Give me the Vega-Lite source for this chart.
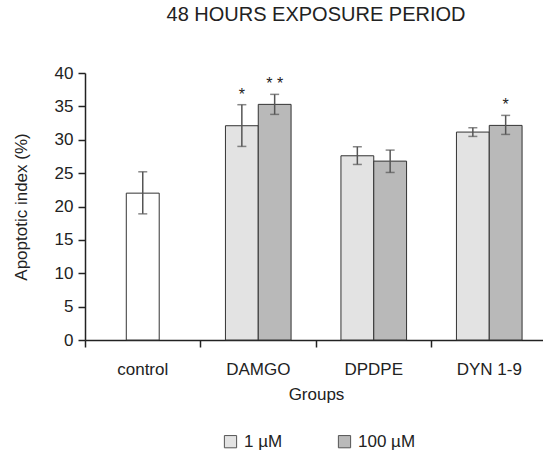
{
  "$schema": "https://vega.github.io/schema/vega-lite/v6.json",
  "width": 462,
  "height": 267,
  "autosize": {"type": "none"},
  "padding": {"left": 85, "top": 73, "right": 0, "bottom": 113},
  "title": {"text": "48 HOURS EXPOSURE PERIOD", "fontSize": 20, "font": "Liberation Sans", "fontWeight": "normal", "color": "#222", "offset": 39},
  "data": {"values": [
    {"group": "control", "dose": "none", "value": 22.0, "lo": 18.9, "hi": 25.2, "sig": ""},
    {"group": "DAMGO", "dose": "1 µM", "value": 32.1, "lo": 29.0, "hi": 35.25, "sig": "*"},
    {"group": "DAMGO", "dose": "100 µM", "value": 35.3, "lo": 33.8, "hi": 36.8, "sig": "* *"},
    {"group": "DPDPE", "dose": "1 µM", "value": 27.6, "lo": 26.3, "hi": 28.95, "sig": ""},
    {"group": "DPDPE", "dose": "100 µM", "value": 26.8, "lo": 25.1, "hi": 28.45, "sig": ""},
    {"group": "DYN 1-9", "dose": "1 µM", "value": 31.15, "lo": 30.5, "hi": 31.8, "sig": ""},
    {"group": "DYN 1-9", "dose": "100 µM", "value": 32.15, "lo": 30.8, "hi": 33.65, "sig": "*"}
  ]},
  "encoding": {
    "x": {
      "field": "group", "type": "nominal",
      "sort": ["control", "DAMGO", "DPDPE", "DYN 1-9"],
      "scale": {"paddingInner": 0, "paddingOuter": 0},
      "axis": {
        "title": "Groups", "bandPosition": 0, "labelAngle": 0,
        "labelPadding": 14, "titlePadding": 9
      }
    }
  },
  "layer": [
    {
      "transform": [{"filter": "datum.dose == 'none'"}],
      "mark": {"type": "bar", "fill": "white", "stroke": "#333", "strokeWidth": 1, "width": {"band": 0.285}},
      "encoding": {
        "y": {
          "field": "value", "type": "quantitative",
          "scale": {"domain": [0, 40], "nice": false},
          "axis": {"title": "Apoptotic index (%)", "values": [0, 5, 10, 15, 20, 25, 30, 35, 40]}
        }
      }
    },
    {
      "transform": [{"filter": "datum.dose == 'none'"}],
      "mark": {"type": "rule", "color": "#555", "strokeWidth": 1.5},
      "encoding": {
        "y": {"field": "lo", "type": "quantitative", "axis": {"title": "Apoptotic index (%)", "values": [0, 5, 10, 15, 20, 25, 30, 35, 40]}},
        "y2": {"field": "hi"}
      }
    },
    {
      "transform": [{"filter": "datum.dose == 'none'"}],
      "mark": {"type": "tick", "color": "#555", "thickness": 1.5, "size": 9},
      "encoding": {"y": {"field": "lo", "type": "quantitative", "axis": {"title": "Apoptotic index (%)", "values": [0, 5, 10, 15, 20, 25, 30, 35, 40]}}}
    },
    {
      "transform": [{"filter": "datum.dose == 'none'"}],
      "mark": {"type": "tick", "color": "#555", "thickness": 1.5, "size": 9},
      "encoding": {"y": {"field": "hi", "type": "quantitative", "axis": {"title": "Apoptotic index (%)", "values": [0, 5, 10, 15, 20, 25, 30, 35, 40]}}}
    },
    {
      "transform": [{"filter": "datum.dose != 'none'"}],
      "mark": {"type": "bar", "stroke": "#333", "strokeWidth": 1},
      "encoding": {
        "xOffset": {"field": "dose", "type": "nominal", "sort": ["1 µM", "100 µM"], "scale": {"paddingInner": 0, "paddingOuter": 0.76}},
        "y": {"field": "value", "type": "quantitative", "axis": {"title": "Apoptotic index (%)", "values": [0, 5, 10, 15, 20, 25, 30, 35, 40]}},
        "color": {
          "field": "dose", "type": "nominal",
          "scale": {"domain": ["1 µM", "100 µM"], "range": ["#e3e3e3", "#b9b9b9"]},
          "legend": {
            "title": null, "orient": "none", "legendX": 137, "legendY": 360, "direction": "horizontal",
            "symbolType": "square", "symbolSize": 150, "symbolStrokeColor": "#555", "symbolStrokeWidth": 1,
            "labelFontSize": 17, "labelFont": "Liberation Sans", "labelColor": "#222", "labelOffset": 5, "columnPadding": 53
          }
        }
      }
    },
    {
      "transform": [{"filter": "datum.dose != 'none'"}],
      "mark": {"type": "rule", "color": "#555", "strokeWidth": 1.5},
      "encoding": {
        "xOffset": {"field": "dose", "type": "nominal", "sort": ["1 µM", "100 µM"]},
        "y": {"field": "lo", "type": "quantitative", "axis": {"title": "Apoptotic index (%)", "values": [0, 5, 10, 15, 20, 25, 30, 35, 40]}},
        "y2": {"field": "hi"}
      }
    },
    {
      "transform": [{"filter": "datum.dose != 'none'"}],
      "mark": {"type": "tick", "color": "#555", "thickness": 1.5, "size": 9},
      "encoding": {
        "xOffset": {"field": "dose", "type": "nominal", "sort": ["1 µM", "100 µM"]},
        "y": {"field": "lo", "type": "quantitative", "axis": {"title": "Apoptotic index (%)", "values": [0, 5, 10, 15, 20, 25, 30, 35, 40]}}
      }
    },
    {
      "transform": [{"filter": "datum.dose != 'none'"}],
      "mark": {"type": "tick", "color": "#555", "thickness": 1.5, "size": 9},
      "encoding": {
        "xOffset": {"field": "dose", "type": "nominal", "sort": ["1 µM", "100 µM"]},
        "y": {"field": "hi", "type": "quantitative", "axis": {"title": "Apoptotic index (%)", "values": [0, 5, 10, 15, 20, 25, 30, 35, 40]}}
      }
    },
    {
      "transform": [{"filter": "datum.sig != ''"}],
      "mark": {"type": "text", "font": "Liberation Sans", "fontSize": 16, "color": "#222", "dy": -5, "baseline": "alphabetic"},
      "encoding": {
        "xOffset": {"field": "dose", "type": "nominal", "sort": ["1 µM", "100 µM"]},
        "y": {"field": "hi", "type": "quantitative", "axis": {"title": "Apoptotic index (%)", "values": [0, 5, 10, 15, 20, 25, 30, 35, 40]}},
        "text": {"field": "sig"}
      }
    }
  ],
  "config": {
    "view": {"stroke": null},
    "font": "Liberation Sans",
    "axis": {
      "grid": false,
      "domainColor": "#222", "domainWidth": 1.5, "tickColor": "#222", "tickWidth": 1.5, "tickSize": 7,
      "labelFontSize": 17, "labelFont": "Liberation Sans", "labelColor": "#222",
      "titleFontSize": 17, "titleFont": "Liberation Sans", "titleFontWeight": "normal", "titleColor": "#222"
    },
    "axisY": {"labelPadding": 5, "titlePadding": 24}
  }
}
